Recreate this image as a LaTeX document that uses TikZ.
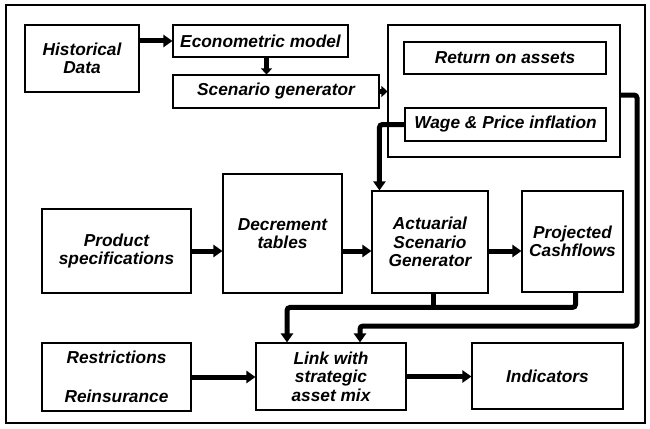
\documentclass[tikz,border=0pt]{standalone}
\usepackage{fontspec}
\setmainfont{Liberation Sans}
\usetikzlibrary{arrows.meta,calc}
\begin{document}
\begin{tikzpicture}[x=1pt,y=-1pt,
  box/.style={draw, line width=1.1pt, align=center, inner sep=2pt,
    font=\fontsize{17.3}{18.5}\selectfont\bfseries\itshape},
  arr/.style={line width=5pt, -{Triangle[length=9pt,width=12pt]}},
  sarr/.style={line width=5pt, -{Triangle[length=6pt,width=11pt]}},
  conn/.style={line width=5pt, rounded corners=3pt},
  carr/.style={conn, -{Triangle[length=9pt,width=12pt]}}]
\useasboundingbox (0,0) rectangle (650,428);
\draw[line width=2pt] (6,5) rectangle (645,423);
% top area
\node[box, minimum width=114pt, minimum height=67pt] (hist) at (82,58.5) {Historical\\Data};
\node[box, minimum width=175pt, minimum height=32pt] (econ) at (260.5,41) {Econometric model};
\node[box, minimum width=206pt, minimum height=33pt] (scen) at (276,91.5) {Scenario generator};
\node[box, minimum width=232pt, minimum height=132pt] (big) at (504,91) {};
\node[box, minimum width=202pt, minimum height=32pt] (ret) at (505,58) {Return on assets};
\node[box, minimum width=201pt, minimum height=33pt] (wage) at (505.5,124.5) {Wage \& Price inflation};
% middle row
\node[box, minimum width=149pt, minimum height=84pt] (prod) at (116.5,251) {Product\\specifications};
\node[box, minimum width=119pt, minimum height=119pt] (dec) at (282.5,233.5) {Decrement\\tables};
\node[box, minimum width=116pt, minimum height=102pt] (act) at (430,242) {Actuarial\\Scenario\\Generator};
\node[box, minimum width=101pt, minimum height=101pt] (proj) at (572.5,241.5) {Projected\\Cashflows};
% bottom row
\node[box, minimum width=149pt, minimum height=68pt] (rest) at (116.5,377) {Restrictions\\[20pt]Reinsurance};
\node[box, minimum width=150pt, minimum height=67pt] (link) at (331,376.5) {Link with\\strategic\\asset mix};
\node[box, minimum width=151pt, minimum height=66pt] (ind) at (547.5,376) {Indicators};
% connectors
\draw[arr] (hist.east |- econ.west) -- (econ.west);
\coordinate (es) at ($(econ.south)+(6,0)$);
\draw[sarr] (es) -- (es |- scen.north);
\draw[sarr] (scen.east) -- (scen.east -| big.west);
\coordinate (actin) at ($(act.north west)+(8,0)$);
\draw[carr] (wage.west) -| (actin);
\draw[arr] (prod.east) -- (prod.east -| dec.west);
\draw[arr] (dec.east |- prod.east) -- (act.west |- prod.east);
\draw[arr] (act.east |- prod.east) -- (proj.west |- prod.east);
\coordinate (rc) at (637,326);
\coordinate (bout) at ($(big.east)+(0,4)$);
\coordinate (lin2) at ($(link.north)+(29,0)$);
\draw[carr] (bout) -| (rc) -| (lin2);
\coordinate (lj) at ($(link.north)+(-44,-35)$);
\coordinate (pout) at ($(proj.south)+(3,0)$);
\coordinate (aout) at ($(act.south)+(3,0)$);
\draw[carr] (pout) |- (lj) -- (lj |- link.north);
\draw[conn] (aout) -- (aout |- lj);
\draw[arr] (rest.east) -- (rest.east -| link.west);
\draw[arr] (link.east) -- (link.east -| ind.west);
\end{tikzpicture}
\end{document}
